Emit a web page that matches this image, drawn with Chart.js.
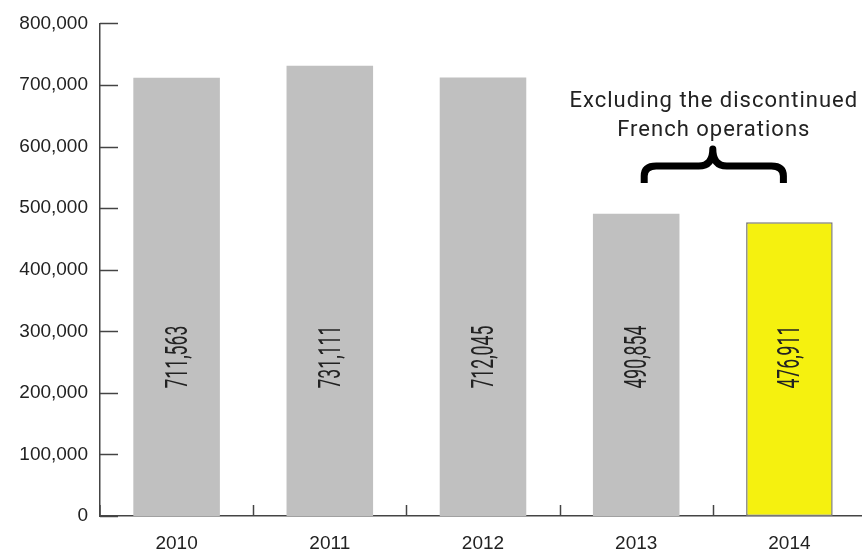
<!DOCTYPE html>
<html>
<head>
<meta charset="utf-8">
<script src="https://cdn.jsdelivr.net/npm/chart.js@4.4.1/dist/chart.umd.min.js"></script>
<style>
  html, body { margin: 0; padding: 0; background: #fff; overflow: hidden; }
  #wrap { width: 862px; height: 549px; overflow: hidden; }
</style>
</head>
<body>
<div id="wrap"><canvas id="c" width="866" height="549"></canvas></div>
<script>
const years = ['2010', '2011', '2012', '2013', '2014'];
const values = [711563, 731111, 712045, 490854, 476911];
const valueLabels = ['711,563', '731,111', '712,045', '490,854', '476,911'];
const yTickValues = [0, 100000, 200000, 300000, 400000, 500000, 600000, 700000, 800000];
const annotationLines = ['Excluding the discontinued', 'French operations'];

const barColors = ['#c0c0c0', '#c0c0c0', '#c0c0c0', '#c0c0c0', '#f5f10f'];
const barBorders = [0, 0, 0, 0, 1.5];
const axisColor = '#444';

const customTicks = {
  id: 'customTicks',
  afterDraw(chart) {
    const ctx = chart.ctx;
    const x = chart.scales.x, y = chart.scales.y;
    ctx.save();
    ctx.strokeStyle = axisColor;
    ctx.lineWidth = 1.5;
    y.ticks.forEach(t => {
      const py = Math.round(y.getPixelForValue(t.value)) + 0.5;
      ctx.beginPath();
      ctx.moveTo(y.right, py);
      ctx.lineTo(y.right + 18, py);
      ctx.stroke();
    });
    for (let i = 0; i < years.length - 1; i++) {
      const px = Math.round((x.getPixelForValue(i) + x.getPixelForValue(i + 1)) / 2) + 0.5;
      ctx.beginPath();
      ctx.moveTo(px, x.top);
      ctx.lineTo(px, x.top - 11);
      ctx.stroke();
    }
    ctx.beginPath();
    ctx.moveTo(y.right, x.top);
    ctx.lineTo(y.right, x.top - 11);
    ctx.stroke();
    ctx.restore();
  }
};

const barLabels = {
  id: 'barLabels',
  afterDatasetsDraw(chart) {
    const ctx = chart.ctx;
    const meta = chart.getDatasetMeta(0);
    const y = chart.scales.y;
    const cy = y.getPixelForValue(258000);
    ctx.save();
    ctx.fillStyle = '#222';
    ctx.font = '400 32px Roboto';
    ctx.textAlign = 'center';
    ctx.textBaseline = 'middle';
    meta.data.forEach((bar, i) => {
      ctx.save();
      ctx.translate(bar.x + 1, cy);
      ctx.rotate(-Math.PI / 2);
      ctx.scale(0.55, 1);
      ctx.fillText(valueLabels[i], 0, 1);
      ctx.restore();
    });
    ctx.restore();
  }
};

const braceNote = {
  id: 'braceNote',
  afterDraw(chart) {
    const ctx = chart.ctx;
    const x = chart.scales.x, y = chart.scales.y;
    const L = x.getPixelForValue(3) + 8;
    const R = x.getPixelForValue(4) - 6;
    const C = (L + R) / 2 - 1;
    const yBar = y.getPixelForValue(0) - 350;
    const yTop = yBar - 17;
    const yEnd = yBar + 17;
    ctx.save();
    ctx.strokeStyle = '#000';
    ctx.lineWidth = 7;
    ctx.lineCap = 'butt';
    ctx.lineJoin = 'round';
    ctx.beginPath();
    ctx.moveTo(L, yEnd);
    ctx.lineTo(L, yBar + 10);
    ctx.quadraticCurveTo(L, yBar, L + 12, yBar);
    ctx.lineTo(C - 14, yBar);
    ctx.quadraticCurveTo(C, yBar, C, yTop);
    ctx.quadraticCurveTo(C, yBar, C + 14, yBar);
    ctx.lineTo(R - 12, yBar);
    ctx.quadraticCurveTo(R, yBar, R, yBar + 10);
    ctx.lineTo(R, yEnd);
    ctx.stroke();

    ctx.fillStyle = '#222';
    ctx.font = '22px Roboto';
    try { ctx.letterSpacing = '1px'; } catch (e) {}
    ctx.textAlign = 'center';
    ctx.textBaseline = 'middle';
    ctx.fillText(annotationLines[0], C + 1, yTop - 48);
    ctx.fillText(annotationLines[1], C + 1, yTop - 19);
    ctx.restore();
  }
};

new Chart(document.getElementById('c'), {
  type: 'bar',
  data: {
    labels: years,
    datasets: [{
      data: values,
      backgroundColor: barColors,
      borderColor: '#777',
      borderWidth: barBorders,
      borderSkipped: false,
      categoryPercentage: 0.565,
      barPercentage: 1.0
    }]
  },
  options: {
    responsive: false,
    animation: false,
    devicePixelRatio: 1,
    layout: { padding: { top: 19, left: 0, right: 0, bottom: 0 } },
    plugins: { legend: { display: false }, tooltip: { enabled: false } },
    scales: {
      x: {
        grid: { display: false, drawTicks: false },
        border: { display: true, color: axisColor, width: 1.5 },
        ticks: { color: '#222', font: { family: 'Liberation Sans, Arial, sans-serif', size: 19 }, padding: 16 },
        afterFit(s) { s.height = 33; }
      },
      y: {
        min: 0, max: 800000,
        afterBuildTicks(s) { s.ticks = yTickValues.map(v => ({ value: v })); },
        grid: { display: false, drawTicks: false },
        border: { display: true, color: axisColor, width: 1.5 },
        ticks: {
          color: '#222',
          font: { family: 'Liberation Sans, Arial, sans-serif', size: 19 },
          padding: 12,
          callback: v => v.toLocaleString('en-US')
        },
        afterFit(s) { s.width = 100; }
      }
    }
  },
  plugins: [customTicks, barLabels, braceNote]
});
</script>
</body>
</html>
